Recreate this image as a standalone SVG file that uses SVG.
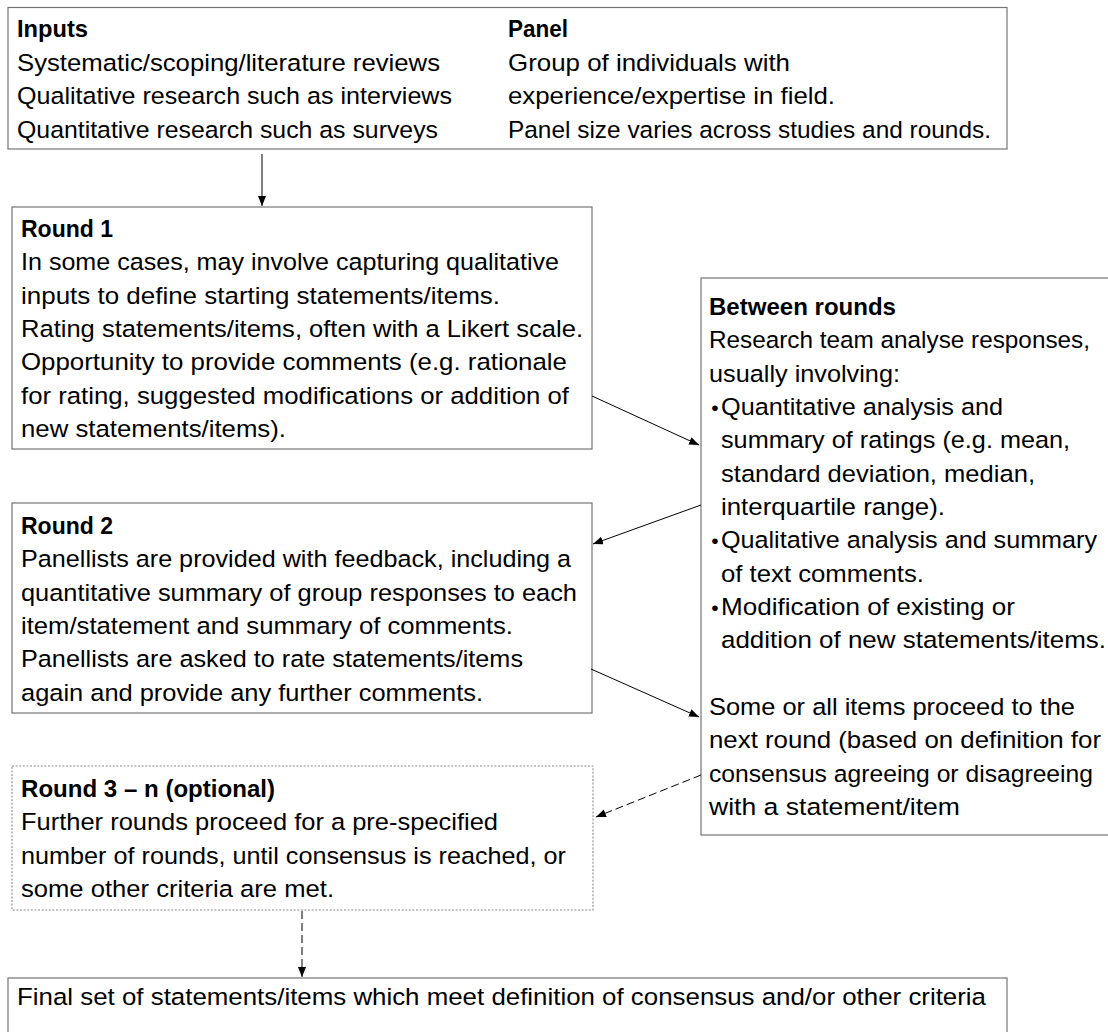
<svg xmlns="http://www.w3.org/2000/svg" width="1108" height="1032" viewBox="0 0 1108 1032">
<defs>
<style>
.box{fill:#fff;stroke:#757575;stroke-width:1.2}
.dot{fill:#fff;stroke:#8a8a8a;stroke-width:1.1;stroke-dasharray:2 1.6}
text{font-family:"Liberation Sans",Arial,sans-serif;font-size:24.5px;fill:#000}
.b{font-weight:bold}
.bul{font-size:21px}
.con{stroke:#000;stroke-width:1;fill:none}
.dash{stroke-dasharray:8 4}
</style>
<marker id="ah" markerUnits="userSpaceOnUse" markerWidth="11" markerHeight="9" refX="10" refY="4" orient="auto">
<path d="M0,0 L10,4 L0,8 z" fill="#000"/>
</marker>
</defs>
<rect width="1108" height="1032" fill="#fff"/>

<g id="inputs-panel">
<rect class="box" x="8" y="7.5" width="999" height="141.5"/>
<text class="b" x="17" y="37" textLength="71" lengthAdjust="spacingAndGlyphs">Inputs</text>
<text x="17" y="70.5" textLength="423" lengthAdjust="spacingAndGlyphs">Systematic/scoping/literature reviews</text>
<text x="17" y="104" textLength="435" lengthAdjust="spacingAndGlyphs">Qualitative research such as interviews</text>
<text x="17" y="137.5" textLength="421" lengthAdjust="spacingAndGlyphs">Quantitative research such as surveys</text>
<text class="b" x="508" y="37" textLength="60" lengthAdjust="spacingAndGlyphs">Panel</text>
<text x="508" y="70.5" textLength="282" lengthAdjust="spacingAndGlyphs">Group of individuals with</text>
<text x="508" y="104" textLength="327" lengthAdjust="spacingAndGlyphs">experience/expertise in field.</text>
<text x="508" y="137.5" textLength="483" lengthAdjust="spacingAndGlyphs">Panel size varies across studies and rounds.</text>
</g>

<g id="round1">
<rect class="box" x="12" y="207" width="580" height="242"/>
<text class="b" x="21" y="237" textLength="92" lengthAdjust="spacingAndGlyphs">Round 1</text>
<text x="21" y="270.3" textLength="538" lengthAdjust="spacingAndGlyphs">In some cases, may involve capturing qualitative</text>
<text x="21" y="303.6" textLength="479" lengthAdjust="spacingAndGlyphs">inputs to define starting statements/items.</text>
<text x="21" y="337" textLength="562" lengthAdjust="spacingAndGlyphs">Rating statements/items, often with a Likert scale.</text>
<text x="21" y="370.3" textLength="546" lengthAdjust="spacingAndGlyphs">Opportunity to provide comments (e.g. rationale</text>
<text x="21" y="403.6" textLength="548" lengthAdjust="spacingAndGlyphs">for rating, suggested modifications or addition of</text>
<text x="21" y="437" textLength="265" lengthAdjust="spacingAndGlyphs">new statements/items).</text>
</g>

<g id="round2">
<rect class="box" x="12" y="503" width="580" height="210"/>
<text class="b" x="21" y="534" textLength="92" lengthAdjust="spacingAndGlyphs">Round 2</text>
<text x="21" y="567.3" textLength="550" lengthAdjust="spacingAndGlyphs">Panellists are provided with feedback, including a</text>
<text x="21" y="600.6" textLength="556" lengthAdjust="spacingAndGlyphs">quantitative summary of group responses to each</text>
<text x="21" y="634" textLength="492" lengthAdjust="spacingAndGlyphs">item/statement and summary of comments.</text>
<text x="21" y="667.3" textLength="502" lengthAdjust="spacingAndGlyphs">Panellists are asked to rate statements/items</text>
<text x="21" y="700.6" textLength="462" lengthAdjust="spacingAndGlyphs">again and provide any further comments.</text>
</g>

<g id="round3">
<rect class="dot" x="12" y="766" width="581" height="144"/>
<text class="b" x="21" y="797" textLength="254" lengthAdjust="spacingAndGlyphs">Round 3 – n (optional)</text>
<text x="21" y="830.3" textLength="477" lengthAdjust="spacingAndGlyphs">Further rounds proceed for a pre-specified</text>
<text x="21" y="863.6" textLength="545" lengthAdjust="spacingAndGlyphs">number of rounds, until consensus is reached, or</text>
<text x="21" y="897" textLength="313" lengthAdjust="spacingAndGlyphs">some other criteria are met.</text>
</g>

<g id="between-rounds">
<rect class="box" x="701" y="278" width="420" height="557"/>
<text class="b" x="709" y="315" textLength="187" lengthAdjust="spacingAndGlyphs">Between rounds</text>
<text x="709" y="348.3" textLength="381" lengthAdjust="spacingAndGlyphs">Research team analyse responses,</text>
<text x="709" y="381.6" textLength="191" lengthAdjust="spacingAndGlyphs">usually involving:</text>
<text class="bul" x="715" y="415" text-anchor="middle">•</text>
<text x="721" y="415" textLength="282" lengthAdjust="spacingAndGlyphs">Quantitative analysis and</text>
<text x="721" y="448.3" textLength="349" lengthAdjust="spacingAndGlyphs">summary of ratings (e.g. mean,</text>
<text x="721" y="481.6" textLength="314" lengthAdjust="spacingAndGlyphs">standard deviation, median,</text>
<text x="721" y="515" textLength="224" lengthAdjust="spacingAndGlyphs">interquartile range).</text>
<text class="bul" x="715" y="548.3" text-anchor="middle">•</text>
<text x="721" y="548.3" textLength="376" lengthAdjust="spacingAndGlyphs">Qualitative analysis and summary</text>
<text x="721" y="581.6" textLength="203" lengthAdjust="spacingAndGlyphs">of text comments.</text>
<text class="bul" x="715" y="615" text-anchor="middle">•</text>
<text x="721" y="615" textLength="294" lengthAdjust="spacingAndGlyphs">Modification of existing or</text>
<text x="721" y="648.3" textLength="385" lengthAdjust="spacingAndGlyphs">addition of new statements/items.</text>
<text x="709" y="715" textLength="366" lengthAdjust="spacingAndGlyphs">Some or all items proceed to the</text>
<text x="709" y="748.3" textLength="392" lengthAdjust="spacingAndGlyphs">next round (based on definition for</text>
<text x="709" y="781.6" textLength="384" lengthAdjust="spacingAndGlyphs">consensus agreeing or disagreeing</text>
<text x="709" y="815" textLength="251" lengthAdjust="spacingAndGlyphs">with a statement/item</text>
</g>

<g id="final">
<rect class="box" x="8" y="978" width="999" height="70"/>
<text x="17" y="1005" textLength="969" lengthAdjust="spacingAndGlyphs">Final set of statements/items which meet definition of consensus and/or other criteria</text>
</g>

<g id="connectors">
<line class="con" x1="262" y1="154" x2="262" y2="206" marker-end="url(#ah)"/>
<line class="con" x1="592" y1="396" x2="699" y2="445" marker-end="url(#ah)"/>
<line class="con" x1="701" y1="505" x2="593" y2="544" marker-end="url(#ah)"/>
<line class="con" x1="591" y1="669" x2="699" y2="717" marker-end="url(#ah)"/>
<line class="con dash" x1="701" y1="775" x2="596" y2="817" marker-end="url(#ah)"/>
<line class="con dash" x1="302" y1="911" x2="302" y2="977" marker-end="url(#ah)"/>
</g>
</svg>
